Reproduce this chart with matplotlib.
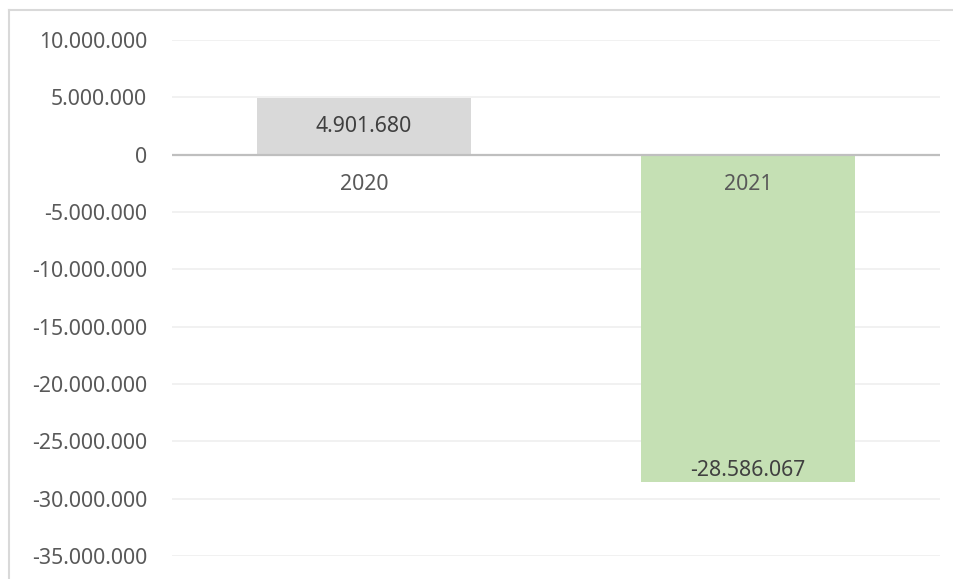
import matplotlib
matplotlib.use("Agg")
import matplotlib.pyplot as plt
from matplotlib.lines import Line2D
from matplotlib.ticker import FuncFormatter

categories = ["2020", "2021"]
values = [4901680, -28586067]
bar_colors = ["#D9D9D9", "#C5E0B4"]
yticks = [10000000, 5000000, 0, -5000000, -10000000, -15000000,
          -20000000, -25000000, -30000000, -35000000]

def fmt(v):
    s = f"{abs(int(round(v))):,}".replace(",", ".")
    return ("-" if v < 0 else "") + s

plt.rcParams['font.family'] = ['Noto Sans', 'DejaVu Sans']
FS = 15.3
TXT = "#595959"

fig = plt.figure(figsize=(9.54, 5.79), dpi=100)
W, H = 954, 579
ax = fig.add_axes([172 / W, 1 - 556 / H, (940 - 172) / W, (556 - 40) / H])

x = list(range(len(categories)))
ax.bar(x, values, width=0.557, color=bar_colors, zorder=2)
ax.set_xlim(-0.5, len(categories) - 0.5)
ax.set_ylim(-35000000, 10000000)
ax.set_yticks(yticks)
ax.yaxis.set_major_formatter(FuncFormatter(lambda v, p: fmt(v)))
ax.set_xticks([])
ax.tick_params(axis='y', length=0, pad=18, labelsize=FS, labelcolor=TXT)
for s in ax.spines.values():
    s.set_visible(False)
for t in yticks:
    if t == 0:
        continue
    ax.axhline(t, color="#EFEFEF", lw=1.2, zorder=1)
ax.axhline(0, color="#BFBFBF", lw=1.6, zorder=3)

# category labels next to axis
for xi, c in zip(x, categories):
    ax.annotate(c, (xi, 0), xytext=(0, -21.6), textcoords="offset points",
                ha="center", va="center", fontsize=FS, color=TXT)

# data labels
ax.annotate(fmt(values[0]), (x[0], values[0] / 2), ha="center", va="center",
            fontsize=FS, color="#404040")
ax.annotate(fmt(values[1]), (x[1], values[1]), xytext=(0, 8.5), textcoords="offset points",
            ha="center", va="center", fontsize=FS, color="#404040")

# chart-area border (top and left visible)
fig.add_artist(Line2D([9 / W, 9 / W], [0, 1 - 10 / H], transform=fig.transFigure,
                      color="#D9D9D9", lw=1.5))
fig.add_artist(Line2D([9 / W, 1], [1 - 10 / H, 1 - 10 / H], transform=fig.transFigure,
                      color="#D9D9D9", lw=1.5))

fig.savefig("out.png", dpi=100)
